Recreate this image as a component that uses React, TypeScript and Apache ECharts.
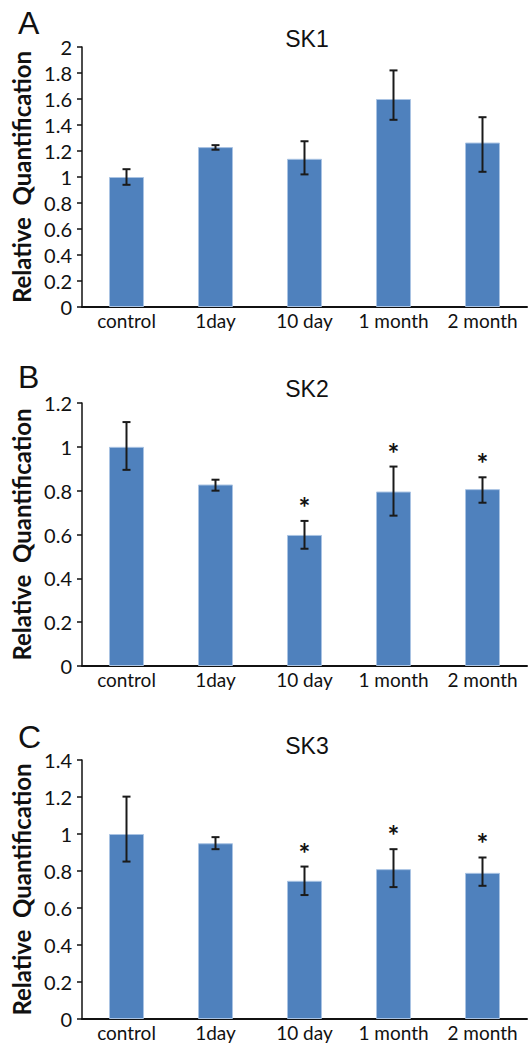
import React, { useEffect, useRef } from "react";
import * as echarts from "echarts";

const categories = ["control", "1day", "10 day", "1 month", "2 month"];

const sk1Values = [1.0, 1.23, 1.14, 1.6, 1.265];
const sk1Low = [0.94, 1.21, 1.02, 1.44, 1.04];
const sk1High = [1.06, 1.245, 1.275, 1.82, 1.46];
const sk1Stars = [false, false, false, false, false];

const sk2Values = [1.0, 0.828, 0.598, 0.796, 0.807];
const sk2Low = [0.895, 0.8, 0.535, 0.686, 0.745];
const sk2High = [1.113, 0.85, 0.662, 0.91, 0.861];
const sk2Stars = [false, false, true, true, true];

const sk3Values = [1.0, 0.95, 0.747, 0.81, 0.79];
const sk3Low = [0.851, 0.918, 0.67, 0.713, 0.72];
const sk3High = [1.202, 0.983, 0.824, 0.918, 0.873];
const sk3Stars = [false, false, true, true, true];

const panels = [
  { letter: "A", title: "SK1", values: sk1Values, low: sk1Low, high: sk1High, stars: sk1Stars, max: 2, interval: 0.2, top: 47, height: 260, letterY: 22, titleY: 35 },
  { letter: "B", title: "SK2", values: sk2Values, low: sk2Low, high: sk2High, stars: sk2Stars, max: 1.2, interval: 0.2, top: 403, height: 263, letterY: 376, titleY: 385 },
  { letter: "C", title: "SK3", values: sk3Values, low: sk3Low, high: sk3High, stars: sk3Stars, max: 1.4, interval: 0.2, top: 760, height: 259, letterY: 736, titleY: 742 },
];

const FONT = "Lato";

export default function App() {
  const ref = useRef<HTMLDivElement>(null);
  useEffect(() => {
    if (!ref.current) return;
    const chart = echarts.init(ref.current, null, { renderer: "svg" });
    const grids: any[] = [];
    const xAxes: any[] = [];
    const yAxes: any[] = [];
    const series: any[] = [];
    const titles: any[] = [];
    panels.forEach((p, i) => {
      grids.push({ left: 82, top: p.top, width: 445, height: p.height, containLabel: false });
      xAxes.push({
        type: "category",
        gridIndex: i,
        data: categories,
        axisLine: { lineStyle: { color: "#111", width: 2 } },
        axisTick: { show: false },
        axisLabel: { color: "#111", fontSize: 19, fontFamily: FONT, margin: 4, interval: 0, hideOverlap: false },
      });
      yAxes.push({
        type: "value",
        gridIndex: i,
        min: 0,
        max: p.max,
        interval: p.interval,
        splitLine: { show: false },
        axisLine: { show: true, lineStyle: { color: "#111", width: 1.5 } },
        axisTick: { show: true, length: 5, lineStyle: { color: "#111", width: 1.5 } },
        axisLabel: { color: "#111", fontSize: 20, fontFamily: FONT, margin: 10 },
        name: "Relative  Quantification",
        nameLocation: "middle",
        nameRotate: 90,
        nameGap: 48,
        nameTextStyle: { color: "#111", fontSize: 24, fontWeight: "bold", fontFamily: FONT },
      });
      series.push({
        type: "bar",
        xAxisIndex: i,
        yAxisIndex: i,
        data: p.values,
        barWidth: 35,
        itemStyle: { color: "#4f81bd", borderColor: "#a9c3e3", borderWidth: 1 },
      });
      series.push({
        type: "custom",
        xAxisIndex: i,
        yAxisIndex: i,
        data: categories.map((_, k) => [k, p.low[k], p.high[k], p.stars[k] ? 1 : 0]),
        renderItem: (params: any, api: any) => {
          const x = api.value(0);
          const lo = api.coord([x, api.value(1)]);
          const hi = api.coord([x, api.value(2)]);
          const cx = lo[0];
          const st = { stroke: "#1a1a1a", lineWidth: 2 };
          const children: any[] = [
            { type: "line", shape: { x1: cx, y1: lo[1], x2: cx, y2: hi[1] }, style: st },
            { type: "line", shape: { x1: cx - 4, y1: lo[1], x2: cx + 4, y2: lo[1] }, style: st },
            { type: "line", shape: { x1: cx - 4, y1: hi[1], x2: cx + 4, y2: hi[1] }, style: st },
          ];
          if (api.value(3) === 1) {
            children.push({
              type: "text",
              x: cx,
              y: hi[1] - 14,
              style: { text: "*", fontSize: 28, fontWeight: "bold", fontFamily: FONT, fill: "#111", align: "center", verticalAlign: "middle" },
            });
          }
          return { type: "group", children };
        },
        z: 5,
      });
      titles.push({
        text: p.title,
        left: 302,
        top: p.titleY - 13,
        textAlign: "center",
        textStyle: { fontSize: 23, fontWeight: "normal", fontFamily: "Liberation Sans", color: "#111" },
      });
      titles.push({
        text: p.letter,
        left: 13,
        top: p.letterY - 20,
        textStyle: { fontSize: 32, fontWeight: "normal", fontFamily: "Liberation Sans", color: "#111" },
      });
    });
    chart.setOption({
      animation: false,
      backgroundColor: "#fff",
      title: titles,
      grid: grids,
      xAxis: xAxes,
      yAxis: yAxes,
      series,
    });
    return () => chart.dispose();
  }, []);
  return (
    <div
      ref={ref}
      style={{ position: "fixed", left: 0, top: 0, width: 532, height: 1043 }}
    />
  );
}
